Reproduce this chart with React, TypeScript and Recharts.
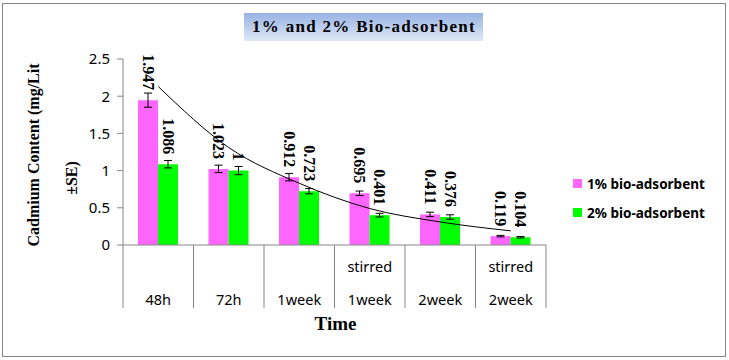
import React from 'react';
import { ComposedChart, Bar, Line, XAxis, YAxis, ErrorBar, LabelList, Legend } from 'recharts';

const topRow = ['', '', '', 'stirred', '', 'stirred'];
const bottomRow = ['48h', '72h', '1week', '1week', '2week', '2week'];
const bio1 = [1.947, 1.023, 0.912, 0.695, 0.411, 0.119];
const bio2 = [1.086, 1.0, 0.723, 0.401, 0.376, 0.104];
const err1 = [0.095, 0.05, 0.05, 0.03, 0.03, 0.01];
const err2 = [0.05, 0.055, 0.035, 0.025, 0.03, 0.01];
const trend1 = [2.13, 1.31, 0.83, 0.49, 0.31, 0.19];
const yTicks = [0, 0.5, 1, 1.5, 2, 2.5];

const data = bottomRow.map((c, i) => ({
  key: String(i),
  b1: bio1[i],
  b2: bio2[i],
  e1: err1[i],
  e2: err2[i],
  trend: trend1[i],
}));

const GRAY = '#868686';
const SERIF = '"Liberation Serif", "Times New Roman", serif';
const SANS = '"Noto Sans", "Open Sans", sans-serif';

const XTick = (props: any) => {
  const { x, y, index, width, visibleTicksCount } = props;
  const n = visibleTicksCount || 6;
  let band = Number(width) / n;
  if (!isFinite(band) || band < 30 || band > 150) band = 70.5;
  const left = x - band / 2;
  return (
    <g>
      <line x1={left} y1={y} x2={left} y2={y + 63} stroke={GRAY} strokeWidth={1} />
      {index === n - 1 && (
        <line x1={left + band} y1={y} x2={left + band} y2={y + 63} stroke={GRAY} strokeWidth={1} />
      )}
      {topRow[index] ? (
        <text x={x} y={y + 27} textAnchor="middle" fontFamily={SANS} fontSize={14.5} fill="#000">
          {topRow[index]}
        </text>
      ) : null}
      <text x={x} y={y + 60} textAnchor="middle" fontFamily={SANS} fontSize={14.5} fill="#000">
        {bottomRow[index]}
      </text>
    </g>
  );
};

const RotLabel = (props: any) => {
  const { x, y, width, value } = props;
  const cx = Number(x) + Number(width) / 2;
  const top = Number(y) - 10;
  return (
    <g transform={`translate(${cx},${top}) rotate(90)`}>
      <text x={0} y={0} dy={5.5} textAnchor="end" fontFamily={SERIF} fontWeight="bold" fontSize={16} fill="#000">
        {String(value)}
      </text>
    </g>
  );
};

const LegendContent = (props: any) => {
  const payload = (props.payload || []).filter((p: any) => p.type !== 'none');
  return (
    <div>
      {payload.map((p: any) => (
        <div key={p.value} style={{ display: 'flex', alignItems: 'center', height: 29 }}>
          <span style={{ display: 'inline-block', width: 9, height: 9, background: p.color, marginRight: 5 }} />
          <span style={{ fontFamily: SANS, fontWeight: 'bold', fontSize: 13.5, color: '#000', whiteSpace: 'nowrap' }}>
            {p.value}
          </span>
        </div>
      ))}
    </div>
  );
};

export default function App() {
  return (
    <div style={{ position: 'absolute', left: 0, top: 0, width: 729, height: 360, background: '#fff' }}>
      <div
        style={{
          position: 'absolute',
          left: 2,
          top: 3,
          width: 724,
          height: 354,
          border: `1px solid ${GRAY}`,
          boxSizing: 'border-box',
        }}
      />
      <div
        style={{
          position: 'absolute',
          left: 244,
          top: 13,
          width: 239,
          height: 28,
          background: 'linear-gradient(to bottom, #97b2e3, #dfe8f6)',
          textAlign: 'center',
          fontFamily: SERIF,
          fontWeight: 'bold',
          fontSize: 17,
          letterSpacing: 1.3,
          lineHeight: '28px',
          paddingTop: 0,
          paddingLeft: 1,
          boxSizing: 'border-box',
          color: '#000',
          zIndex: 2,
          whiteSpace: 'nowrap',
        }}
      >
        1% and 2% Bio-adsorbent
      </div>
      <div style={{ position: 'absolute', left: 0, top: 0 }}>
        <ComposedChart
          width={729}
          height={360}
          data={data}
          margin={{ top: 59, right: 183, bottom: 52, left: 0 }}
          barGap={0}
        >
          <XAxis
            dataKey="key"
            interval={0}
            height={63}
            tickSize={0}
            tickMargin={0}
            tickLine={false}
            axisLine={{ stroke: GRAY }}
            tick={<XTick />}
            label={{
              content: (p: any) => {
                const vb = p.viewBox || { x: 123, y: 245, width: 423 };
                return (
                  <text
                    x={vb.x + vb.width / 2 + 1}
                    y={vb.y + 85}
                    textAnchor="middle"
                    fontFamily={SERIF}
                    fontWeight="bold"
                    fontSize={19}
                    fill="#000"
                  >
                    Time
                  </text>
                );
              },
            }}
          />
          <YAxis
            width={123}
            domain={[0, 2.5]}
            ticks={yTicks}
            interval={0}
            tickSize={6}
            tickMargin={7}
            tickLine={{ stroke: GRAY }}
            axisLine={{ stroke: GRAY }}
            tick={{ fill: '#000', fontFamily: SANS, fontSize: 15 }}
            label={{
              content: () => (
                <g>
                  <text
                    transform="translate(39,155) rotate(-90)"
                    textAnchor="middle"
                    fontFamily={SERIF}
                    fontWeight="bold"
                    fontSize={16}
                    fill="#000"
                  >
                    Cadmium Content (mg/Lit
                  </text>
                  <text
                    transform="translate(77,178) rotate(-90)"
                    textAnchor="middle"
                    fontFamily={SERIF}
                    fontWeight="bold"
                    fontSize={16}
                    fill="#000"
                  >
                    ±SE)
                  </text>
                </g>
              ),
            }}
          />
          <Legend
            layout="vertical"
            align="center"
            verticalAlign="middle"
            wrapperStyle={{ left: 573, top: 169, width: 150 }}
            content={<LegendContent />}
          />
          <Bar dataKey="b1" name="1% bio-adsorbent" fill="#ff66ff" barSize={20} isAnimationActive={false}>
            <ErrorBar dataKey="e1" width={4} stroke="#000" strokeWidth={1} />
            <LabelList dataKey="b1" content={<RotLabel />} />
          </Bar>
          <Bar dataKey="b2" name="2% bio-adsorbent" fill="#00ff00" barSize={20} isAnimationActive={false}>
            <ErrorBar dataKey="e2" width={4} stroke="#000" strokeWidth={1} />
            <LabelList dataKey="b2" content={<RotLabel />} />
          </Bar>
          <Line
            dataKey="trend"
            type="monotone"
            stroke="#000"
            strokeWidth={1}
            dot={false}
            activeDot={false}
            legendType="none"
            isAnimationActive={false}
          />
        </ComposedChart>
      </div>
    </div>
  );
}
